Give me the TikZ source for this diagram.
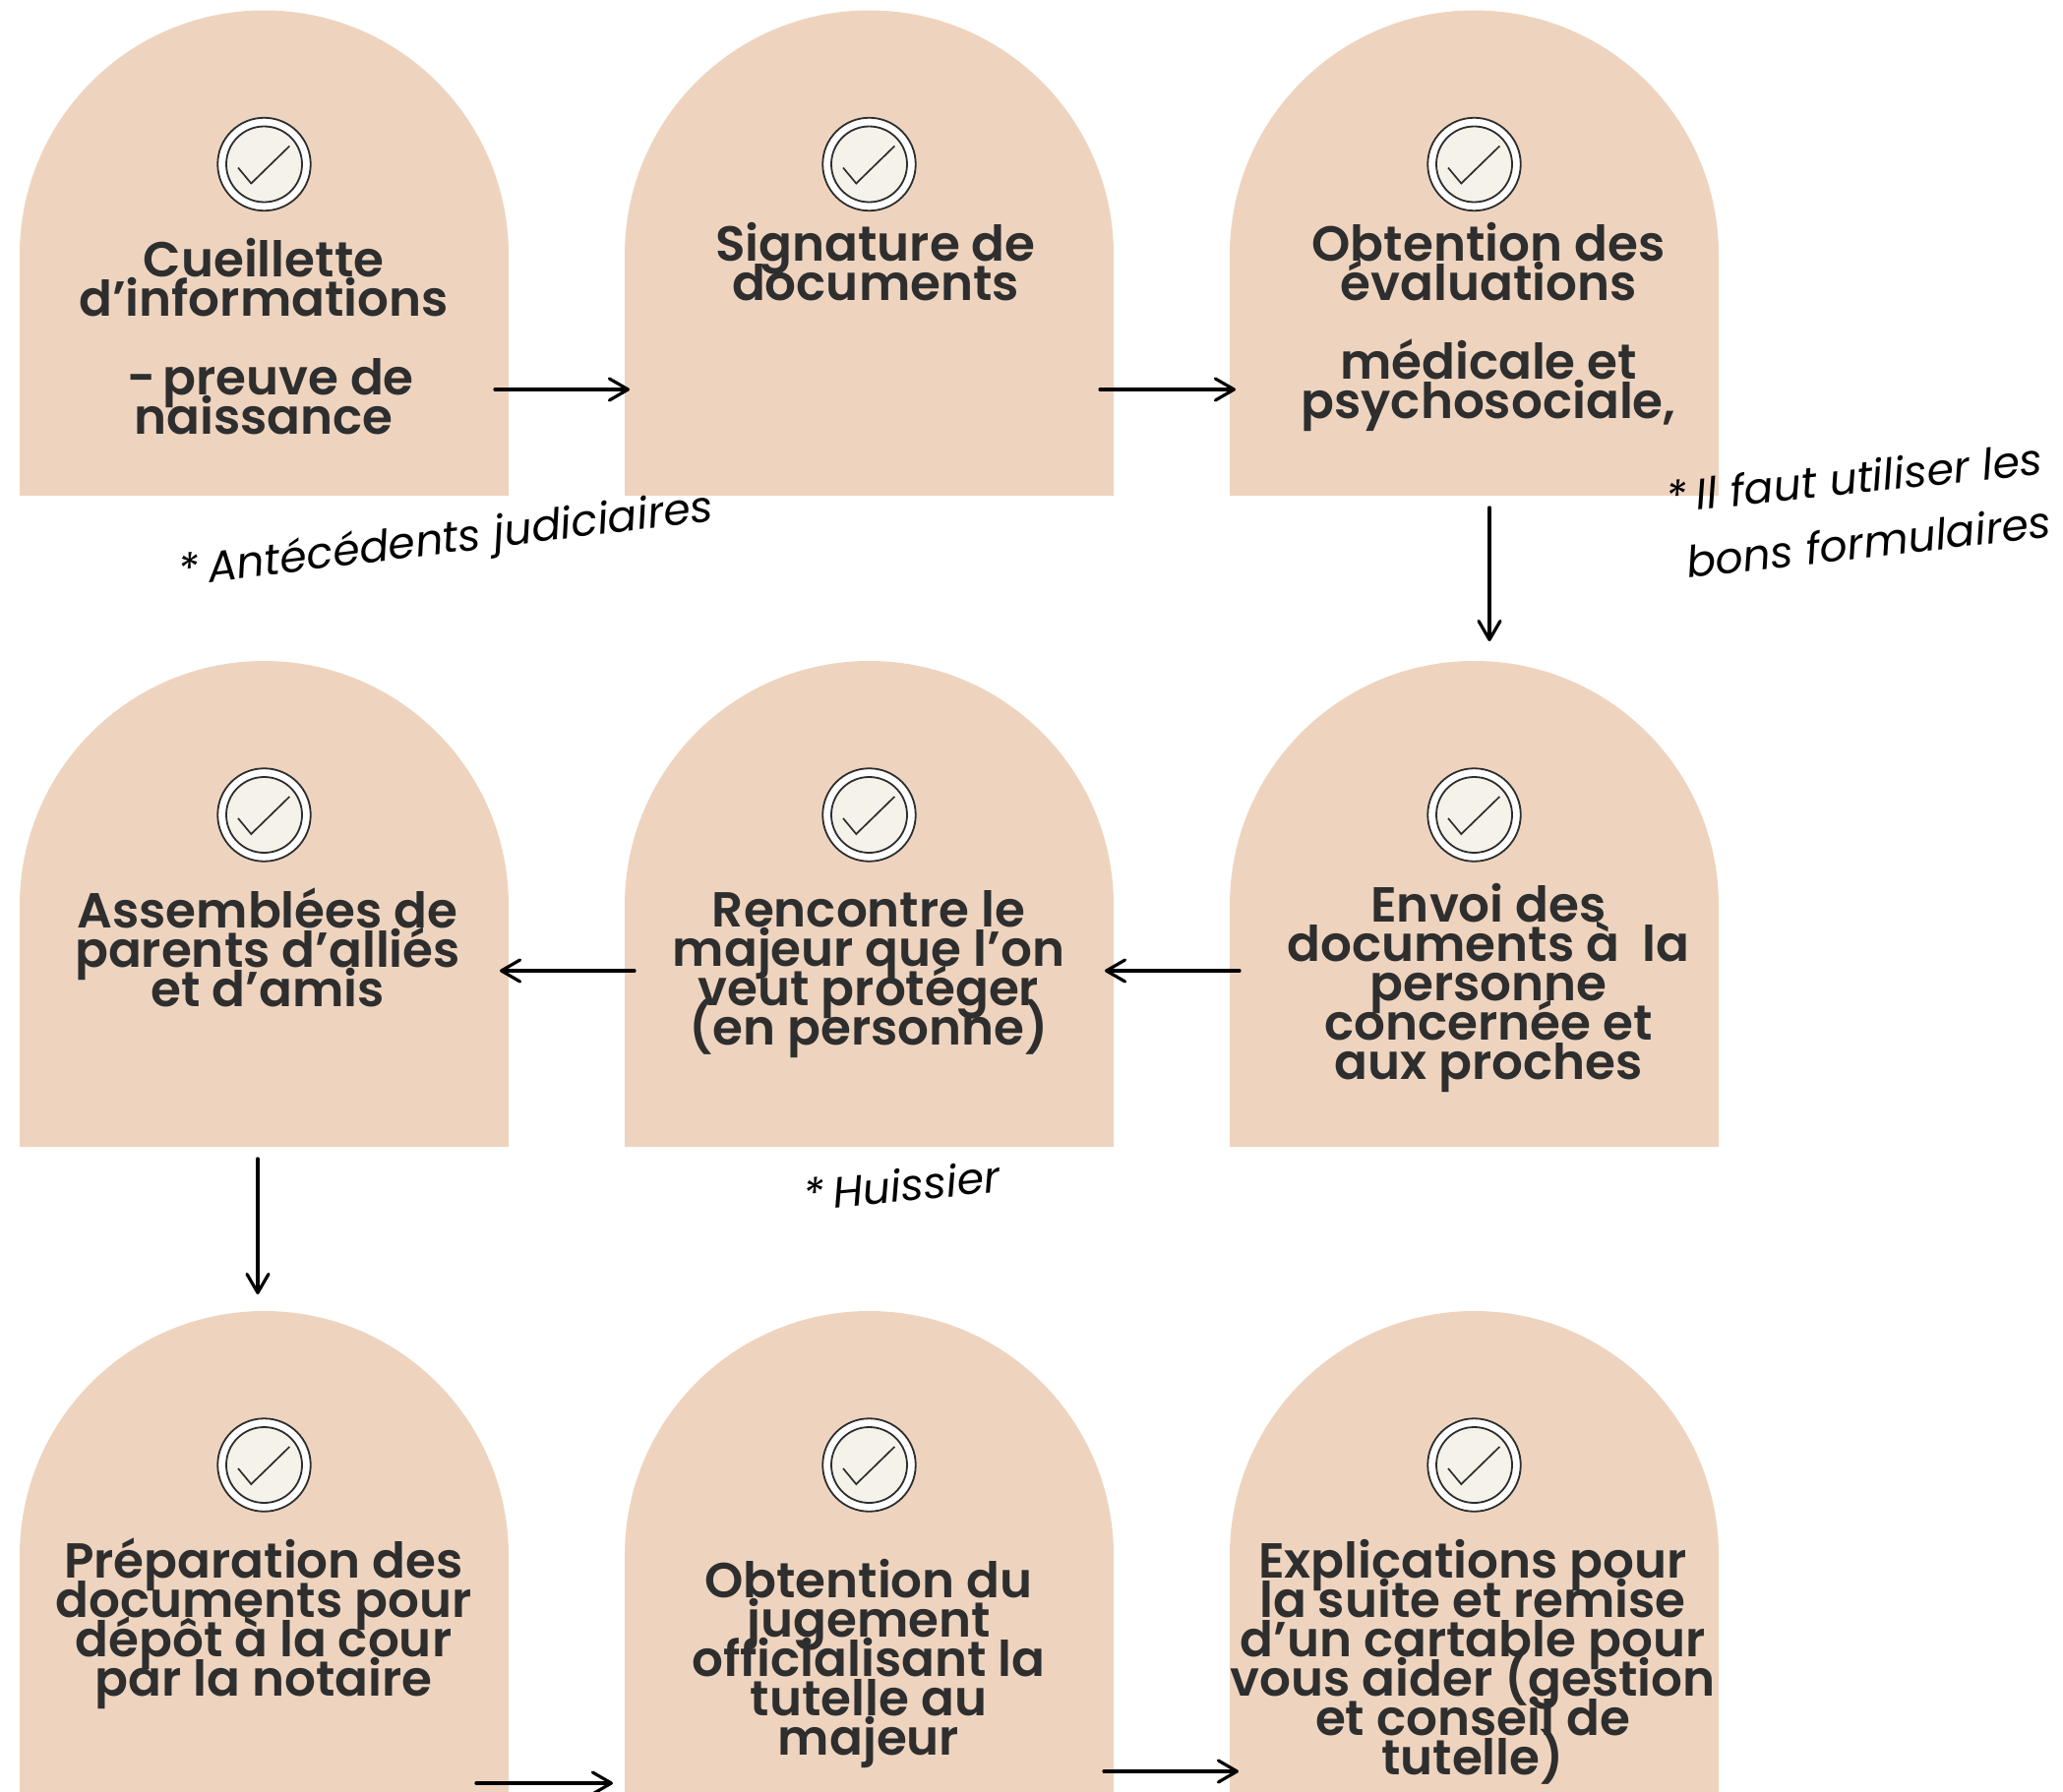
\documentclass[tikz,border=0pt]{standalone}
\usepackage{fontspec}
\usetikzlibrary{arrows.meta}
\setmainfont{Poppins}
\newfontfamily\popsemi{Poppins SemiBold}
\newfontfamily\popnote{Poppins}[ItalicFont=* Italic]
\definecolor{sand}{HTML}{EED4BF}
\definecolor{ink}{HTML}{2E2E2E}
\definecolor{cream}{HTML}{F5F2EA}
\setlength{\lineskiplimit}{-200pt}
\tikzset{
  archshape/.style={fill=sand,draw=none},
  outerdisc/.style={circle,minimum size=94.5pt,inner sep=0pt,fill=white,draw=ink,line width=1.8pt},
  innerdisc/.style={circle,minimum size=77pt,inner sep=0pt,fill=cream,draw=ink,line width=1.8pt},
  tick/.style={draw=ink,line width=1.7pt},
  lbl/.style={font=\popsemi\fontsize{50}{40}\selectfont,text=ink,align=center,inner sep=0pt,anchor=north},
  note/.style={font=\popnote\itshape\fontsize{44}{48}\selectfont,text=black,inner sep=0pt,anchor=base west},
  flow/.style={draw=black,line width=3.2pt,line cap=round,-{Straight Barb[round,length=19pt,width=22pt,line width=3.2pt]}}
}
\newcommand{\archbox}[4]{% name, left x, top y, bottom y
  \path[archshape] (#2,#4) -- (#2,#3+248.5) arc[start angle=180,end angle=360,radius=248.5] -- (#2+497,#4) -- cycle;
  \node[outerdisc] (#1o) at (#2+248.5,#3+156.5) {};
  \node[innerdisc] (#1i) at (#2+248.5,#3+156.5) {};
  \draw[tick] (#2+222,#3+160) -- (#2+235.3,#3+176) -- (#2+274.3,#3+138);
}
\newcommand{\lines}[4]{\node[lbl] (#1) at (#2,#3-50) {\rule{0pt}{50pt}#4};}
\begin{document}
\begin{tikzpicture}[x=1pt,y=-1pt]
\clip (0,0) rectangle (2097,1822);
\archbox{a}{20}{10.5}{504}
\archbox{b}{635}{10.5}{504}
\archbox{c}{1250}{10.5}{504}
\archbox{d}{20}{672}{1166}
\archbox{e}{635}{672}{1166}
\archbox{f}{1250}{672}{1166}
\archbox{g}{20}{1333}{1830}
\archbox{h}{635}{1333}{1830}
\archbox{k}{1250}{1333}{1830}

\lines{ta}{268}{281}{Cueillette\\d’informations\\[40pt]\kern14pt-\kern-5pt\ preuve de\\naissance}
\lines{tb}{890}{265}{Signature de\\documents}
\lines{tc}{1513}{265.5}{Obtention des\\évaluations\\[40pt]médicale et\\psychosociale,}
\lines{td}{272}{943}{Assemblées de\\parents d’alliés\\et d’amis}
\lines{te}{883}{942.5}{Rencontre le\\majeur que l’on\\veut protéger\\(en personne)}
\lines{tf}{1513}{937}{Envoi des\\documents à\ \ la\\personne\\concernée et\\aux proches}
\lines{tg}{268}{1604.5}{Préparation des\\documents pour\\dépôt à la cour\\par la notaire}
\lines{th}{883}{1624}{Obtention du\\jugement\\officialisant la\\tutelle au\\majeur}
\lines{tk}{1497}{1604.5}{Explications pour\\la suite et remise\\d’un cartable pour\\vous aider (gestion\\et conseil de\\tutelle)}

\node[note,rotate=7] (n1) at (183,596) {*\kern-4pt\ Antécédents judiciaires};
\node[note,rotate=6] (n2) at (1695,522) {*\kern-4pt\ Il faut utiliser les};
\node[note,rotate=6.5] (n3) at (1716,588) {bons formulaires};
\node[note,rotate=5.5] (n4) at (818,1231) {*\kern-4pt\ Huissier};

\coordinate (a1) at (503,396);  \coordinate (a2) at (640,396);
\coordinate (b1) at (1118,396); \coordinate (b2) at (1256,396);
\coordinate (c1) at (1514,516); \coordinate (c2) at (1514,652);
\coordinate (f1) at (1260,987); \coordinate (f2) at (1123,987);
\coordinate (e1) at (645,987);  \coordinate (e2) at (508,987);
\coordinate (d1) at (262,1178); \coordinate (d2) at (262,1316);
\coordinate (g1) at (484,1813); \coordinate (g2) at (623,1813);
\coordinate (h1) at (1122,1801);\coordinate (h2) at (1259,1801);
\foreach \p/\q in {a1/a2,b1/b2,c1/c2,f1/f2,e1/e2,d1/d2,g1/g2,h1/h2}
  \draw[flow] (\p) -- (\q);
\end{tikzpicture}
\end{document}
